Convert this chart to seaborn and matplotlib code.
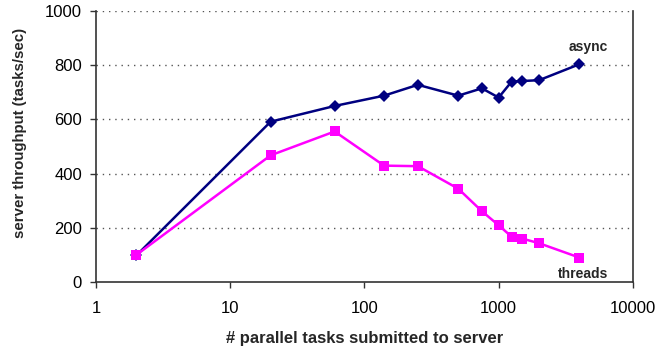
import matplotlib
matplotlib.use("Agg")
import matplotlib.pyplot as plt
import seaborn as sns
import pandas as pd

# Parallel tasks submitted and measured throughput (tasks/sec)
tasks = [2, 20, 60, 140, 250, 500, 750, 1000, 1250, 1500, 2000, 4000]
async_tput = [98, 591, 649, 687, 727, 687, 714, 680, 739, 741, 744, 803]
threads_tput = [100, 467, 555, 429, 427, 344, 261, 209, 167, 160, 143, 90]
series_names = ["async", "threads"]
y_ticks = [0, 200, 400, 600, 800, 1000]
x_ticks = [1, 10, 100, 1000, 10000]

df = pd.DataFrame({
    "tasks": tasks * 2,
    "throughput": async_tput + threads_tput,
    "server": [series_names[0]] * len(tasks) + [series_names[1]] * len(tasks),
})

sns.set_theme(style="white")
plt.rcParams["font.family"] = ["Liberation Sans", "DejaVu Sans"]

fig = plt.figure(figsize=(6.62, 3.47), dpi=100)
ax = fig.add_axes([0.145, 0.1873, 0.811, 0.7817])

palette = {"async": "#000080", "threads": "#FF00FF"}
markers = {"async": "D", "threads": "s"}
sns.lineplot(data=df, x="tasks", y="throughput", hue="server", style="server",
             palette=palette, markers=markers, dashes=False, linewidth=1.8,
             markersize=7, markeredgewidth=0, ax=ax, legend=False)
for line in ax.lines:
    if line.get_marker() == "D":
        line.set_markersize(6.5)

ax.set_xscale("log")
ax.set_xlim(1, 10000)
ax.set_ylim(0, 1000)
ax.set_xticks(x_ticks)
ax.set_xticklabels([str(v) for v in x_ticks])
ax.xaxis.set_minor_locator(matplotlib.ticker.NullLocator())
ax.set_yticks(y_ticks)

for y in y_ticks[1:]:
    ax.axhline(y, color="#555555", linestyle=(0, (1, 3.5)), linewidth=1.0, zorder=0)

for side in ["left", "bottom", "right"]:
    ax.spines[side].set_color("#333333")
    ax.spines[side].set_linewidth(1.2)
ax.spines["top"].set_visible(False)

ax.tick_params(axis="both", which="major", direction="out", length=4, width=1,
               color="#333333", labelsize=12, labelcolor="black", bottom=True, left=True)
ax.tick_params(axis="x", pad=10)
ax.tick_params(axis="y", pad=6)

ax.set_xlabel("# parallel tasks submitted to server", fontsize=12, fontweight="bold")
ax.set_ylabel("server throughput (tasks/sec)", fontsize=10.8, fontweight="bold")
ax.xaxis.set_label_coords(0.5, -0.182)
ax.yaxis.set_label_coords(-0.128, 0.55)

ax.text(4620, 867, "async", fontsize=10, fontweight="bold", ha="center", va="center")
ax.text(4245, 30, "threads", fontsize=10, fontweight="bold", ha="center", va="center")

fig.savefig("out.png", dpi=100)
